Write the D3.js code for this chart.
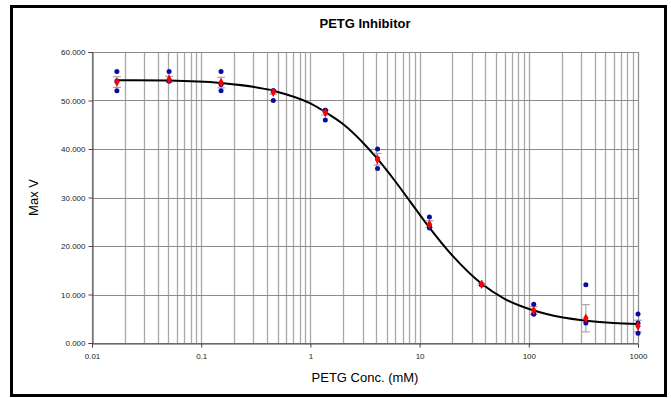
<!DOCTYPE html>
<html>
<head>
<meta charset="utf-8">
<script src="https://cdn.jsdelivr.net/npm/d3@7"></script>
<style>
  body { margin: 0; background: #fff; }
  text { font-family: Arial, "Liberation Sans", sans-serif; }
</style>
</head>
<body>
<script>
// concentrations (mM), threefold dilution series
var conc = [0.0169, 0.0508, 0.152, 0.457, 1.37, 4.12, 12.3, 37.0, 111, 333, 1000];

// replicate readings (blue dots)
var rep1 = [56, 56, 56, 52, 48, 40, 26, 12, 8, 12, 6];
var rep2 = [52, 54, 52, 50, 46, 36, 24, 12, 6, 4.1, 4.1];
var rep3 = [54, 54, 53.3, 52, 48, 38, 23.7, 12, 6, null, 2];

// averages (red) and error bar half-widths
var avg = [53.8, 54.4, 53.7, 51.7, 47.5, 37.9, 24.5, 12.1, 6.7, 5.1, 3.5];
var err = [1.1, 0.6, 1.1, 0.4, 0.5, 1.2, 0.7, 0.2, 0.8, 2.8, 1.2];

// fitted curve
var fitConc = [0.0169, 0.05, 0.15, 0.46, 1, 1.37, 2, 3, 4.1, 6, 8.3, 12, 20, 37, 60, 111, 200, 333, 600, 1000];
var fitVal  = [54.2, 54.1, 53.6, 52.0, 49.4, 47.6, 45.1, 41.4, 38.0, 33.3, 29.0, 24.1, 18.0, 12.2, 9.1, 6.7, 5.3, 4.6, 4.1, 3.9];

var yTicks = [0, 10, 20, 30, 40, 50, 60];
var xTicks = [0.01, 0.1, 1, 10, 100, 1000];

var W = 671, H = 398;
var margin = {top: 52, right: 33, bottom: 55, left: 92},
    width = W - margin.left - margin.right,
    height = H - margin.top - margin.bottom;

var svg = d3.select("body").append("svg")
    .attr("width", W)
    .attr("height", H);

// outer frame
svg.append("rect")
    .attr("x", 11.5).attr("y", 6.5)
    .attr("width", 654).attr("height", 389)
    .attr("fill", "none")
    .attr("stroke", "#000")
    .attr("stroke-width", 3);

var g = svg.append("g")
    .attr("transform", "translate(" + margin.left + "," + margin.top + ")");

var x = d3.scaleLog().domain([0.01, 1000]).range([0, width]);
var y = d3.scaleLinear().domain([0, 60]).range([height, 0]);

// vertical grid: every log tick
var minor = x.ticks();
g.selectAll(".vgrid")
    .data(minor)
  .enter().append("line")
    .attr("class", "vgrid")
    .attr("x1", function(d) { return Math.round(x(d)) + 0.5; })
    .attr("x2", function(d) { return Math.round(x(d)) + 0.5; })
    .attr("y1", 0)
    .attr("y2", height)
    .attr("stroke", "#a8a8a8")
    .attr("stroke-width", 1.3);

// horizontal grid
g.selectAll(".hgrid")
    .data(yTicks)
  .enter().append("line")
    .attr("x1", 0).attr("x2", width)
    .attr("y1", function(d) { return Math.round(y(d)) + 0.5; })
    .attr("y2", function(d) { return Math.round(y(d)) + 0.5; })
    .attr("stroke", "#8c8c8c")
    .attr("stroke-width", 1);

// right border of plot
g.append("line")
    .attr("x1", width + 0.5).attr("x2", width + 0.5)
    .attr("y1", 0).attr("y2", height)
    .attr("stroke", "#8c8c8c");

// axes
var yAxis = g.append("g")
    .attr("transform", "translate(0.5,0)")
    .call(d3.axisLeft(y).tickValues(yTicks).tickSize(4).tickPadding(3)
      .tickFormat(d3.format(".3f")));
var xAxis = g.append("g")
    .attr("transform", "translate(0," + (height + 0.5) + ")")
    .call(d3.axisBottom(x).tickValues(xTicks).tickSize(4).tickPadding(6)
      .tickFormat(function(d) { return String(d); }));

[yAxis, xAxis].forEach(function(a) {
  a.select(".domain").attr("stroke", "#444");
  a.selectAll(".tick line").attr("stroke", "#444");
  a.selectAll(".tick text")
    .attr("fill", "#222")
    .style("font-size", "8px")
    .style("font-family", "Arial, 'Liberation Sans', sans-serif");
});

// fitted curve
var fit = fitConc.map(function(c, i) { return [c, fitVal[i]]; });
g.append("path")
    .datum(fit)
    .attr("fill", "none")
    .attr("stroke", "#000")
    .attr("stroke-width", 2)
    .attr("d", d3.line()
      .x(function(d) { return x(d[0]); })
      .y(function(d) { return y(d[1]); })
      .curve(d3.curveMonotoneX));

// error bars
var bars = g.selectAll(".err")
    .data(conc)
  .enter().append("g")
    .attr("stroke", "#999")
    .attr("stroke-width", 1);
bars.append("line")
    .attr("x1", function(d) { return x(d); })
    .attr("x2", function(d) { return x(d); })
    .attr("y1", function(d, i) { return y(avg[i] + err[i]); })
    .attr("y2", function(d, i) { return y(avg[i] - err[i]); });
bars.append("line")
    .attr("x1", function(d) { return x(d) - 4; })
    .attr("x2", function(d) { return x(d) + 4; })
    .attr("y1", function(d, i) { return y(avg[i] + err[i]); })
    .attr("y2", function(d, i) { return y(avg[i] + err[i]); });
bars.append("line")
    .attr("x1", function(d) { return x(d) - 4; })
    .attr("x2", function(d) { return x(d) + 4; })
    .attr("y1", function(d, i) { return y(avg[i] - err[i]); })
    .attr("y2", function(d, i) { return y(avg[i] - err[i]); });

// replicate dots
var reps = [];
[rep1, rep2, rep3].forEach(function(r) {
  r.forEach(function(v, i) { if (v != null) reps.push({c: conc[i], v: v}); });
});
g.selectAll(".rep")
    .data(reps)
  .enter().append("circle")
    .attr("cx", function(d) { return x(d.c); })
    .attr("cy", function(d) { return y(d.v); })
    .attr("r", 2.5)
    .attr("fill", "#0a0aa0");

// average markers (red diamonds)
g.selectAll(".avg")
    .data(conc)
  .enter().append("path")
    .attr("transform", function(d, i) { return "translate(" + x(d) + "," + y(avg[i]) + ")"; })
    .attr("d", d3.symbol().type(d3.symbolDiamond).size(26))
    .attr("fill", "#ff0000");

// titles
svg.append("text")
    .attr("x", margin.left + width / 2)
    .attr("y", 28)
    .attr("text-anchor", "middle")
    .style("font-size", "13px")
    .style("font-weight", "bold")
    .text("PETG Inhibitor");

svg.append("text")
    .attr("x", margin.left + width / 2)
    .attr("y", 382)
    .attr("text-anchor", "middle")
    .style("font-size", "13px")
    .text("PETG Conc. (mM)");

svg.append("text")
    .attr("transform", "rotate(-90)")
    .attr("x", -(margin.top + height / 2))
    .attr("y", 38)
    .attr("text-anchor", "middle")
    .style("font-size", "13px")
    .text("Max V");
</script>
</body>
</html>
